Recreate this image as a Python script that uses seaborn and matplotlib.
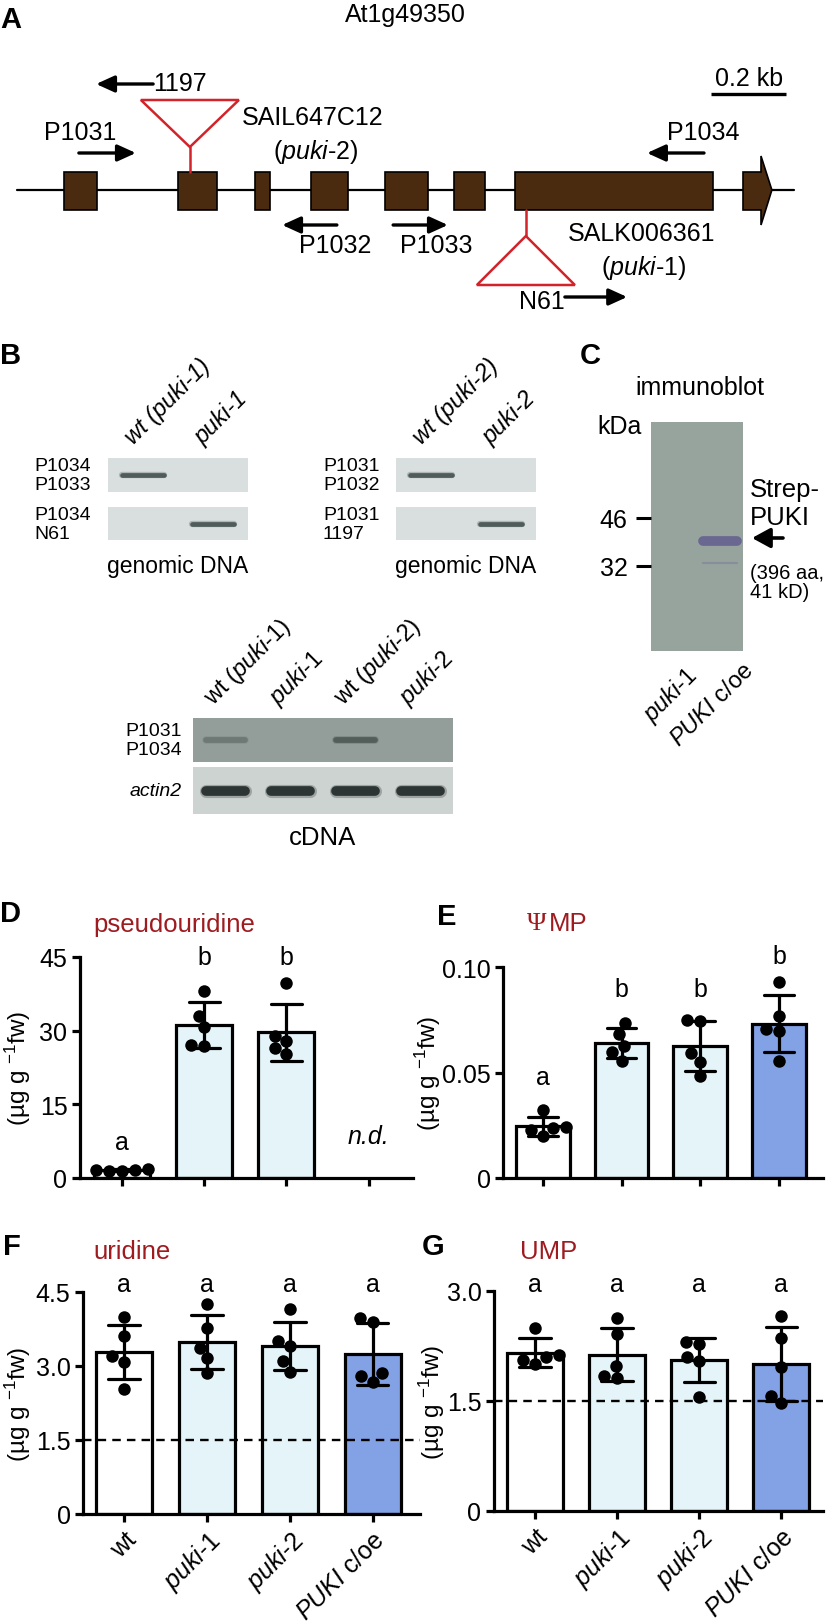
import matplotlib
matplotlib.use("Agg")
import matplotlib.pyplot as plt
import pandas as pd
import seaborn as sns
from matplotlib.patches import Rectangle, Polygon
from matplotlib.ticker import NullLocator


# Datos del gen At1g49350 (posiciones en pb)
gene_length = 2072
exon_starts = [125, 429, 635, 784, 981, 1165, 1328, 1936]
exon_ends = [213, 533, 675, 883, 1096, 1248, 1856, 2013]
insert_sites = [461, 1357]          # SAIL647C12, SALK006361
primer_names = ["P1031", "P1034", "1197", "P1032", "P1033", "N61"]
primer_tail = [165, 1832, 363, 853, 1003, 1461]
primer_head = [317, 1680, 211, 707, 1149, 1627]
scale_bar = [1851, 2051]

# Geles (intensidad de banda por carril)
gel_b1_top = [1.0, 0.0]
gel_b1_bottom = [0.0, 1.0]
gel_b2_top = [1.0, 0.0]
gel_b2_bottom = [0.0, 1.0]
cdna_top = [0.45, 0.0, 0.9, 0.0]
cdna_actin = [1.0, 1.0, 1.0, 1.0]
blot_markers = [32, 46]             # kDa
blot_bands_kda = [38.7, 32.7]
blot_bands_lane2 = [1.0, 0.25]

# Metabolitos (µg g-1 fw), cinco réplicas por genotipo
genotypes = ["wt", "puki-1", "puki-2", "PUKI c/oe"]
pseudouridine = {
    "wt": [1.4, 1.9, 1.6, 1.7, 1.5],
    "puki-1": [38.1, 33.0, 30.7, 26.9, 27.1],
    "puki-2": [39.8, 29.0, 27.8, 26.4, 25.2],
    "PUKI c/oe": [],
}
psi_mp = {
    "wt": [0.032, 0.0237, 0.0242, 0.0227, 0.0199],
    "puki-1": [0.0735, 0.0682, 0.0626, 0.0597, 0.0555],
    "puki-2": [0.0744, 0.0749, 0.0592, 0.055, 0.0483],
    "PUKI c/oe": [0.0929, 0.0768, 0.0706, 0.0697, 0.0555],
}
uridine = {
    "wt": [3.99, 3.61, 3.20, 3.08, 2.53],
    "puki-1": [4.26, 3.77, 3.37, 3.16, 2.86],
    "puki-2": [4.16, 3.51, 3.41, 3.10, 2.88],
    "PUKI c/oe": [3.97, 3.89, 2.86, 2.80, 2.68],
}
ump = {
    "wt": [2.50, 2.10, 2.13, 2.06, 2.00],
    "puki-1": [2.63, 2.41, 1.98, 1.81, 1.84],
    "puki-2": [2.30, 2.28, 2.10, 2.05, 1.55],
    "PUKI c/oe": [2.66, 2.36, 1.96, 1.47, 1.57],
}
tick_names = ["wt", r"$\it{puki}$-1", r"$\it{puki}$-2", r"$\it{PUKI}$ c/oe"]

# Estilo
sns.set_theme(style="ticks")
plt.rcParams["font.family"] = ["Liberation Sans", "DejaVu Sans"]
plt.rcParams["mathtext.fontset"] = "custom"
plt.rcParams["mathtext.rm"] = "Liberation Sans"
plt.rcParams["mathtext.it"] = "Liberation Sans:italic"
plt.rcParams["mathtext.bf"] = "Liberation Sans:bold"
for k in ["text.color", "axes.labelcolor", "axes.edgecolor", "xtick.color", "ytick.color"]:
    plt.rcParams[k] = "black"

exon_color = "#4a2b0f"
insert_red = "#d3232a"
title_red = "#9e1b20"
bar_colors = {"wt": "white", "puki-1": "#e0f6fd", "puki-2": "#e0f6fd", "PUKI c/oe": "#729cf5"}

W, H = 826, 1624
fig = plt.figure(figsize=(W / 100, H / 100), dpi=100)


def px_axes(x, y, w, h):
    return fig.add_axes([x / W, 1 - (y + h) / H, w / W, h / H])


ov = px_axes(0, 0, W, H)
ov.set_xlim(0, W)
ov.set_ylim(H, 0)
ov.axis("off")


def T(x, y, s, size=18, **kw):
    kw.setdefault("ha", "center")
    kw.setdefault("va", "center")
    return ov.text(x, y, s, fontsize=size, **kw)


def letter(x, y, s):
    T(x, y, s, size=21, weight="bold", ha="left", va="top")


# ---------------- Panel A ----------------
ga = px_axes(0, 0, W, 330)
bp_per_px = 200 / 75
ga.set_xlim(-17 * bp_per_px, (W - 17) * bp_per_px)
ga.set_ylim(330, 0)
ga.axis("off")

ga.plot([0, gene_length], [191, 191], color="black", lw=1.6, zorder=1)
for s, e in zip(exon_starts[:-1], exon_ends[:-1]):
    ga.add_patch(Rectangle((s, 173), e - s, 38, facecolor=exon_color,
                           edgecolor="black", lw=1.2, zorder=2))
s, e = exon_starts[-1], exon_ends[-1]
hs = e - 29
ga.add_patch(Polygon([(s, 173), (hs, 173), (hs, 157), (e, 191), (hs, 226),
                      (hs, 211), (s, 211)], closed=True, facecolor=exon_color,
                     edgecolor="black", lw=1.2, zorder=2))

# inserciones T-DNA
half = 49 * bp_per_px
sail, salk = insert_sites
ga.plot([sail, sail], [148, 173], color=insert_red, lw=1.8, zorder=3)
ga.add_patch(Polygon([(sail - half, 101), (sail + half, 101), (sail, 148)], closed=True,
                     facecolor="white", edgecolor=insert_red, lw=1.8, zorder=3))
ga.plot([salk, salk], [211, 237], color=insert_red, lw=1.8, zorder=3)
ga.add_patch(Polygon([(salk, 237), (salk - half, 286), (salk + half, 286)], closed=True,
                     facecolor="white", edgecolor=insert_red, lw=1.8, zorder=3))

# cebadores
primer_rows = [154, 154, 85, 226, 226, 298]
for tail, head, row in zip(primer_tail, primer_head, primer_rows):
    ga.annotate("", xy=(head, row), xytext=(tail, row),
                arrowprops=dict(arrowstyle="-|>,head_length=0.55,head_width=0.25",
                                lw=2.4, color="black", shrinkA=0, shrinkB=0,
                                mutation_scale=20))
ga.plot(scale_bar, [95, 95], color="black", lw=2.4, solid_capstyle="butt")

letter(0, 6, "A")
T(405, 15, "At1g49350")
T(153, 84, "1197", ha="left")
T(242, 118, "SAIL647C12", ha="left")
T(316, 152, r"($\it{puki}$-2)")
T(80, 133, "P1031")
T(703, 133, "P1034")
T(749, 79, "0.2 kb")
T(335, 246, "P1032")
T(436, 246, "P1033")
T(642, 234, "SALK006361")
T(644, 268, r"($\it{puki}$-1)")
T(565, 302, "N61", ha="right")


# ---------------- Geles ----------------
def gel(box, intens, bg, band, lw):
    ax = px_axes(*box)
    ax.set_facecolor(bg)
    for i, a in enumerate(intens):
        if a > 0:
            ax.plot([i - 0.3, i + 0.3], [0.5, 0.5], color=band, lw=lw * 1.35,
                    alpha=0.3 * a, solid_capstyle="round")
            ax.plot([i - 0.3, i + 0.3], [0.5, 0.5], color=band, lw=lw,
                    alpha=a, solid_capstyle="round")
    ax.set_xlim(-0.5, len(intens) - 0.5)
    ax.set_ylim(0, 1)
    ax.set_xticks([])
    ax.set_yticks([])
    for sp in ax.spines.values():
        sp.set_visible(False)
    return ax


gel_bg = "#d9dfde"
gel((108, 459, 140, 34), gel_b1_top, gel_bg, "#4f5c5a", 3.4)
gel((108, 508, 140, 33), gel_b1_bottom, gel_bg, "#4f5c5a", 3.4)
gel((396, 459, 140, 34), gel_b2_top, gel_bg, "#4f5c5a", 3.4)
gel((396, 508, 140, 33), gel_b2_bottom, gel_bg, "#4f5c5a", 3.4)
gel((193, 719, 260, 44), cdna_top, "#939e9b", "#4f5a57", 4.2)
gel((193, 768, 260, 47), cdna_actin, "#cdd3d1", "#2c3533", 7.0)

letter(0, 342, "B")
for lx, s in zip([143, 213, 431, 501], ["wt (puki-1)", "puki-1", "wt (puki-2)", "puki-2"]):
    T(lx - 10, 445, s, size=17, style="italic", rotation=45, ha="left",
      va="baseline", rotation_mode="anchor")
T(34, 476, "P1034\nP1033", size=14, ha="left", linespacing=1.15)
T(34, 525, "P1034\nN61", size=14, ha="left", linespacing=1.15)
T(323, 476, "P1031\nP1032", size=14, ha="left", linespacing=1.15)
T(323, 525, "P1031\n1197", size=14, ha="left", linespacing=1.15)
T(178, 567, "genomic DNA", size=16.5)
T(466, 567, "genomic DNA", size=16.5)

cdna_labels = [r"wt ($\it{puki}$-1)", r"$\it{puki}$-1", r"wt ($\it{puki}$-2)", r"$\it{puki}$-2"]
for lx, s in zip([225.5, 290.5, 355.5, 420.5], cdna_labels):
    T(lx - 12, 706, s, size=17, rotation=45, ha="left", va="baseline",
      rotation_mode="anchor")
T(182, 741, "P1031\nP1034", size=14, ha="right", linespacing=1.15)
T(182, 792, "actin2", size=14, ha="right", style="italic")
T(323, 838, "cDNA", size=18.5)

# ---------------- Panel C ----------------
bl = px_axes(651, 423, 92, 229)
bl.set_facecolor("#97a49e")
bl.set_yscale("log")
bl.set_ylim(16.8, 95)
bl.set_xlim(-0.5, 1.5)
for kda, a in zip(blot_bands_kda, blot_bands_lane2):
    bl.plot([0.62, 1.38], [kda, kda], color="#6a6790", lw=7 if a > 0.5 else 1.6,
            alpha=min(1, a + 0.1), solid_capstyle="round")
bl.set_yticks(blot_markers)
bl.set_yticklabels([str(m) for m in blot_markers])
bl.yaxis.set_minor_locator(NullLocator())
bl.tick_params(axis="y", length=11, width=2.2, pad=6, labelsize=18, direction="out")
bl.set_xticks([])
for sp in bl.spines.values():
    sp.set_visible(False)

letter(580, 342, "C")
T(700, 388, "immunoblot")
T(597, 427, "kDa", ha="left")
ov.annotate("", xy=(752, 539), xytext=(783, 539),
            arrowprops=dict(arrowstyle="-|>,head_length=0.55,head_width=0.3",
                            lw=2.6, color="black", shrinkA=0, shrinkB=0, mutation_scale=20))
T(750, 504, "Strep-\nPUKI", size=18.5, ha="left", linespacing=1.2)
T(750, 583, "(396 aa,\n41 kD)", size=14.5, ha="left", linespacing=1.05)
T(684, 662, r"$\it{puki}$-1", size=17, rotation=45, ha="right", va="top",
  rotation_mode="anchor")
T(742, 660, r"$\it{PUKI}$ c/oe", size=17, rotation=45, ha="right", va="top",
  rotation_mode="anchor")


# ---------------- Paneles D-G ----------------
def long_df(values):
    rows = [(g, v) for g in genotypes for v in values[g]]
    return pd.DataFrame(rows, columns=["genotype", "value"])


def bar_panel(box, values, xlim, ylim, yticks, yticklabels, letters, letter_y,
              label_x, show_names, cutoff=None):
    ax = px_axes(*box)
    ax.patch.set_visible(False)
    df = long_df(values)
    present = [g for g in genotypes if len(values[g])]
    sns.barplot(data=df, x="genotype", y="value", hue="genotype", order=genotypes,
                hue_order=present, palette=bar_colors, errorbar="sd", capsize=0.38,
                width=0.68, edgecolor="black", linewidth=2.3,
                err_kws={"color": "black", "linewidth": 2.3}, legend=False, ax=ax)
    if cutoff is not None:
        ax.axhline(cutoff, color="black", lw=1.7, ls=(0, (3.6, 2.6)), zorder=4)
    sns.swarmplot(data=df, x="genotype", y="value", order=genotypes, color="black",
                  size=9, ax=ax, zorder=5)
    ax.set_xlim(*xlim)
    ax.set_ylim(*ylim)
    ax.set_yticks(yticks)
    ax.set_yticklabels(yticklabels)
    ax.set_xticks(range(len(genotypes)))
    if show_names:
        ax.set_xticklabels(tick_names, rotation=45, ha="right", rotation_mode="anchor",
                           fontsize=16.5)
    else:
        ax.set_xticklabels([])
    ax.set_xlabel("")
    ax.set_ylabel(r"(µg g $^{-1}$fw)", fontsize=17.5)
    ax.yaxis.set_label_coords(label_x, 0.5)
    sns.despine(ax=ax)
    for sp in ["left", "bottom"]:
        ax.spines[sp].set_linewidth(2.3)
    ax.tick_params(width=2.3, length=6, labelsize=18, pad=3)
    for i, (l, y) in enumerate(zip(letters, letter_y)):
        if l:
            ax.text(i, y, l, fontsize=18, ha="center", va="center", clip_on=False)
    return ax


axD = bar_panel((80, 958, 333, 221), pseudouridine, (-0.51, 3.54), (0, 45),
                [0, 15, 30, 45], ["0", "15", "30", "45"], ["a", "b", "b", ""],
                [7.3, 45.0, 45.0, 0], -0.141, False)
axD.text(3, 8.6, "n.d.", fontsize=18, style="italic", ha="center", va="center")
bar_panel((503, 968, 320, 211), psi_mp, (-0.506, 3.56), (0, 0.10),
          [0, 0.05, 0.10], ["0", "0.05", "0.10"], ["a", "b", "b", "b"],
          [0.0479, 0.0896, 0.0896, 0.105], -0.1875, False)
bar_panel((83, 1293, 337, 222), uridine, (-0.494, 3.57), (0, 4.5),
          [0, 1.5, 3.0, 4.5], ["0", "1.5", "3.0", "4.5"], ["a"] * 4,
          [4.66] * 4, -0.148, True, cutoff=1.5)
bar_panel((494, 1292, 329, 220), ump, (-0.5, 3.51), (0, 3.0),
          [0, 1.5, 3.0], ["0", "1.5", "3.0"], ["a"] * 4,
          [3.10] * 4, -0.143, True, cutoff=1.5)

letter(0, 900, "D")
letter(437, 903, "E")
letter(3, 1233, "F")
letter(422, 1233, "G")
T(93, 925, "pseudouridine", size=18.5, color=title_red, ha="left")
T(527, 924, "Ψ", size=19, color=title_red, ha="left", family=["Liberation Serif", "DejaVu Serif"])
T(549, 924, "MP", size=18.5, color=title_red, ha="left")
T(93, 1252, "uridine", size=18.5, color=title_red, ha="left")
T(520, 1252, "UMP", size=18.5, color=title_red, ha="left")

fig.savefig("out.png", dpi=100)
